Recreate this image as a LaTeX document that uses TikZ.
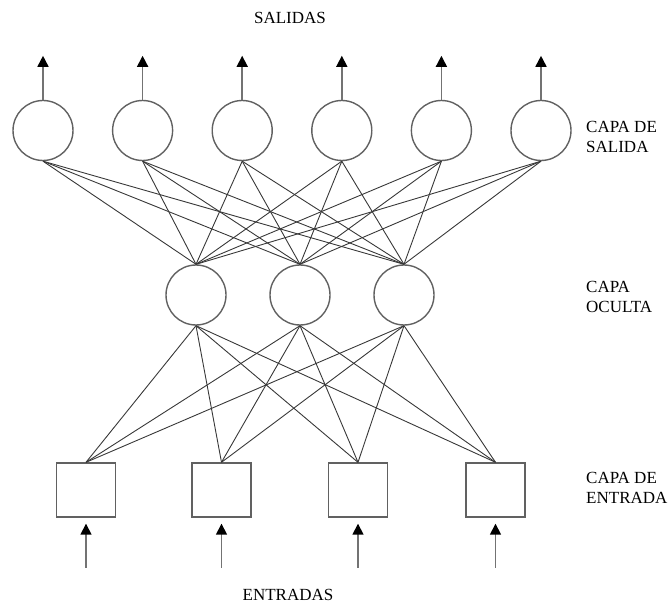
\documentclass[tikz,border=0pt]{standalone}
\usepackage{fontspec}
\setmainfont{Liberation Serif}
\usetikzlibrary{arrows.meta}
\begin{document}
\begin{tikzpicture}[x=1pt,y=-1pt,
  neuron/.style={circle,draw=black!62,line width=1.4pt,minimum size=60pt,inner sep=0pt},
  inbox/.style={rectangle,draw=black!62,line width=1.4pt,minimum width=59pt,minimum height=54pt,inner sep=0pt},
  link/.style={draw=black!78,line width=0.9pt},
  flow/.style={draw=black!55,line width=1.6pt,-{Triangle[width=11pt,length=11pt,color=black]}},
  lbl/.style={font=\fontsize{17}{20}\selectfont,inner sep=0pt,text=black},
  side/.style={lbl,align=left,anchor=west}]
\useasboundingbox (0,0) rectangle (672,604);

% output layer
\foreach \i in {1,...,6}
  \node[neuron] (o\i) at ({43+99.6*(\i-1)},130.5) {};
% hidden layer
\node[neuron] (h1) at (196,295) {};
\node[neuron] (h2) at (300,295) {};
\node[neuron] (h3) at (404,295) {};
% input layer
\node[inbox] (e1) at (86,490) {};
\node[inbox] (e2) at (221.5,490) {};
\node[inbox] (e3) at (358,490) {};
\node[inbox] (e4) at (495.5,490) {};

% connections hidden -> output
\foreach \h in {1,2,3}
  \foreach \o in {1,...,6}
    \draw[link] (h\h.north) -- (o\o.south);
% connections input -> hidden
\foreach \e in {1,...,4}
  \foreach \h in {1,2,3}
    \draw[link] (e\e.north) -- (h\h.south);

% output arrows
\foreach \i in {1,...,6}{
  \coordinate (ot\i) at ([yshift=44pt]o\i.north);
  \draw[flow] (o\i.north) -- (ot\i);
}
% input arrows
\foreach \e in {1,...,4}{
  \coordinate (ib\e) at ([yshift=-50pt]e\e.south);
  \coordinate (it\e) at ([yshift=-6pt]e\e.south);
  \draw[flow] (ib\e) -- (it\e);
}

% labels
\node[lbl] (salidas) at (290,17.5) {SALIDAS};
\node[lbl] (entradas) at (288,595) {ENTRADAS};
\node[side] (ls) at (586,137) {CAPA DE\\SALIDA};
\node[side] (lo) at (586,297) {CAPA\\OCULTA};
\node[side] (le) at (586,488) {CAPA DE\\ENTRADA};
\end{tikzpicture}
\end{document}
